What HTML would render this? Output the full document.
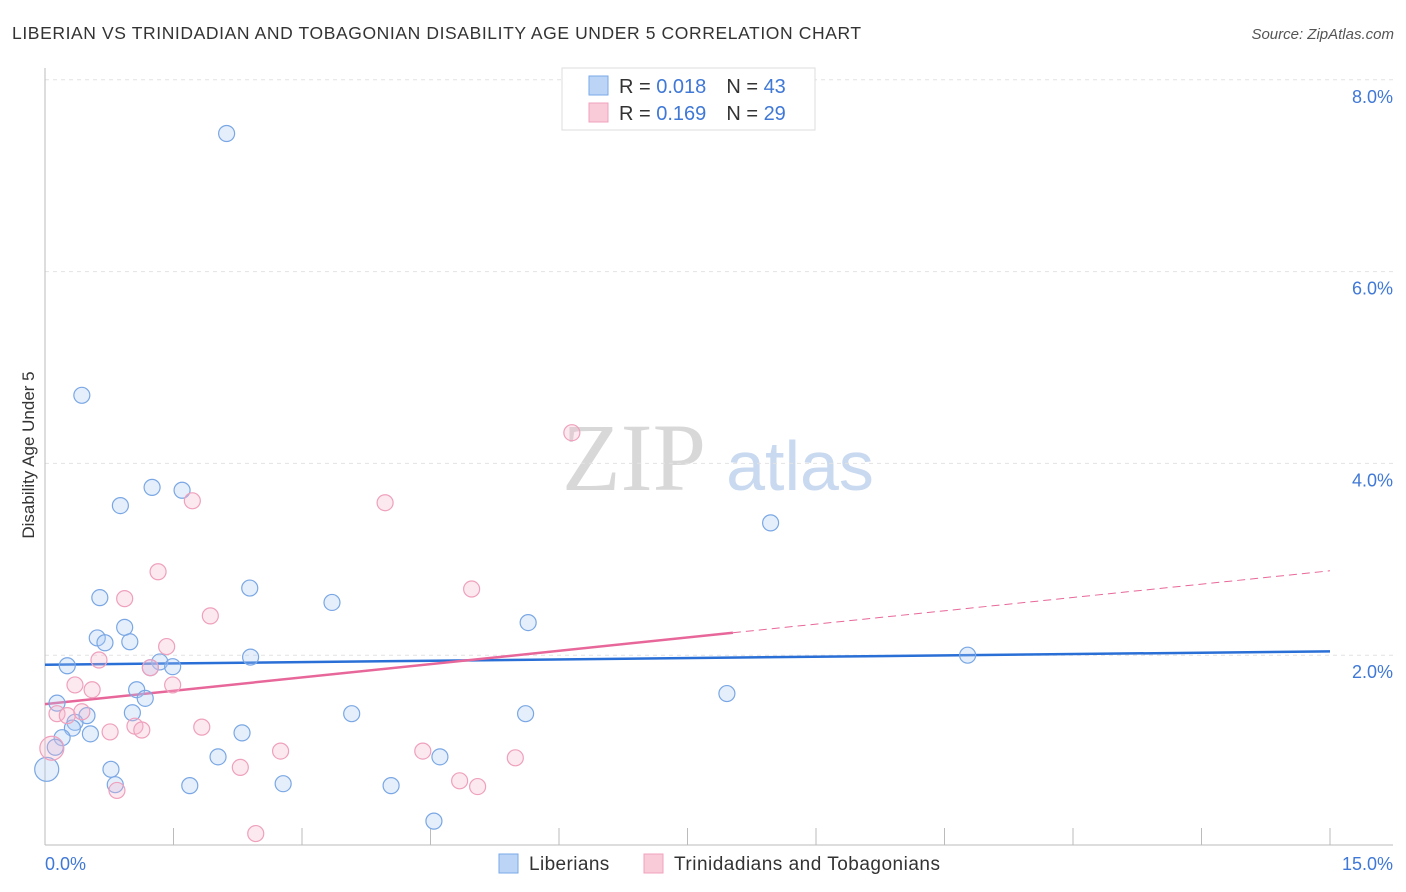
<!DOCTYPE html>
<html><head><meta charset="utf-8"><style>
body{margin:0;background:#fff;font-family:"Liberation Sans",sans-serif}
svg{display:block}
</style></head><body>
<svg id="chart" width="1406" height="892" viewBox="0 0 1406 892" xmlns="http://www.w3.org/2000/svg">
<text x="12" y="39" font-size="17.5" letter-spacing="0.6" fill="#333">LIBERIAN VS TRINIDADIAN AND TOBAGONIAN DISABILITY AGE UNDER 5 CORRELATION CHART</text>
<text x="1394" y="39" font-size="15" fill="#555" font-style="italic" text-anchor="end">Source: ZipAtlas.com</text>
<g>
<text x="634" y="490" font-size="96" font-family="Liberation Serif,serif" fill="#d8d8d8" text-anchor="middle">ZIP</text>
<text x="800" y="490" font-size="70" fill="#c9d9f0" text-anchor="middle">atlas</text>
</g>
<g id="grid"></g>
<g id="axes"></g>
<g id="trends"></g>
<g id="points"></g>
<text x="34" y="455" font-size="17" fill="#333" text-anchor="middle" transform="rotate(-90 34 455)">Disability Age Under 5</text>
<g>
<rect x="562" y="68" width="253" height="62" fill="#fff" stroke="#ddd"/>
<rect x="589" y="76" width="19" height="19" fill="#bcd4f5" stroke="#7aaae8"/>
<rect x="589" y="103" width="19" height="19" fill="#f9cbd9" stroke="#f0a0bc"/>
<text x="619" y="93" font-size="20" fill="#333">R = <tspan fill="#3f78d6">0.018</tspan><tspan dx="20">N = </tspan><tspan fill="#3f78d6">43</tspan></text>
<text x="619" y="120" font-size="20" fill="#333">R = <tspan fill="#3f78d6"> 0.169</tspan><tspan dx="20">N = </tspan><tspan fill="#3f78d6">29</tspan></text>
</g>
<g>
<rect x="499" y="854" width="19" height="19" fill="#bcd4f5" stroke="#7aaae8"/>
<text x="529" y="870" font-size="19" letter-spacing="0.4" fill="#333">Liberians</text>
<rect x="644" y="854" width="19" height="19" fill="#f9cbd9" stroke="#f0a0bc"/>
<text x="674" y="870" font-size="19" letter-spacing="0.5" fill="#333">Trinidadians and Tobagonians</text>
</g>
</svg>
<script>
const yTicks=[2,4,6,8];
const yTickLabels=["2.0%","4.0%","6.0%","8.0%"];
const xTickCount=10;
const xEndLabels=["0.0%","15.0%"];
const blueX=[2.12,0.43,1.25,1.60,0.88,8.47,0.64,2.39,3.35,5.64,0.93,0.61,0.70,0.99,2.40,10.77,0.26,1.34,1.49,1.23,1.07,0.14,1.17,7.96,1.02,3.58,5.61,0.49,0.35,0.32,0.20,0.53,2.30,0.12,2.02,4.61,0.77,0.02,0.82,1.69,2.78,4.04,4.54];
const blueY=[7.44,4.71,3.75,3.72,3.56,3.38,2.60,2.70,2.55,2.34,2.29,2.18,2.13,2.14,1.98,2.00,1.89,1.93,1.88,1.87,1.64,1.50,1.55,1.60,1.40,1.39,1.39,1.37,1.30,1.24,1.14,1.18,1.19,1.04,0.94,0.94,0.81,0.81,0.65,0.64,0.66,0.64,0.27];
const pinkX=[6.15,1.72,3.97,1.32,4.98,0.93,1.93,1.42,0.63,1.23,1.49,0.35,0.55,0.14,0.26,0.43,0.76,1.05,1.13,1.83,0.08,2.75,4.41,5.49,2.28,4.84,5.05,0.84,2.46];
const pinkY=[4.32,3.61,3.59,2.87,2.69,2.59,2.41,2.09,1.95,1.87,1.69,1.69,1.64,1.39,1.37,1.41,1.20,1.26,1.22,1.25,1.03,1.00,1.00,0.93,0.83,0.69,0.63,0.59,0.14];
const blueTrend=[1.90,2.04];
const pinkTrend=[1.49,2.88];
const pinkSolidEnd=8.03;
const X0=45,X1=1330,Y0=847,PY=95.9;
const sx=v=>X0+(X1-X0)*v/15, sy=v=>Y0-v*PY;
const NS="http://www.w3.org/2000/svg";
function mk(tag,attrs,parent){const e=document.createElementNS(NS,tag);for(const k in attrs)e.setAttribute(k,attrs[k]);parent.appendChild(e);return e;}
const grid=document.getElementById('grid'),axes=document.getElementById('axes'),tr=document.getElementById('trends'),pts=document.getElementById('points');
yTicks.forEach((t,i)=>{
 const l=mk('line',{x1:45,x2:1393,y1:sy(t),y2:sy(t),stroke:'#e2e2e2','stroke-dasharray':'4 4'},grid);
 
 
 const tx=mk('text',{x:1393,y:sy(t)+23,'font-size':18,fill:'#3f78d6','text-anchor':'end'},axes);
 tx.textContent=yTickLabels[i];
 
 
});
mk('line',{x1:45,x2:45,y1:68,y2:845,stroke:'#bbb'},axes);
mk('line',{x1:45,x2:1393,y1:845,y2:845,stroke:'#bbb'},axes);
for(let i=0;i<=xTickCount;i++){
 const x=sx(15*i/xTickCount);
 const t=mk('line',{x1:x,x2:x,y1:828,y2:845,stroke:'#bbb'},axes);
 
 
}
const xl0=mk('text',{x:45,y:870,'font-size':18,fill:'#3f78d6'},axes);xl0.textContent=xEndLabels[0];


const xl1=mk('text',{x:1393,y:870,'font-size':18,fill:'#3f78d6','text-anchor':'end'},axes);xl1.textContent=xEndLabels[1];


function dot(x,y,r,fill,stroke,name){
 const c=mk('circle',{cx:sx(x),cy:sy(y),r:r,fill:fill,stroke:stroke,'stroke-width':1.2},pts);
 
 
}
blueX.forEach((x,i)=>dot(x,blueY[i],x<0.05?12:8,'rgba(170,202,245,0.3)','#7aa7e4','point-liberian'));
pinkX.forEach((x,i)=>dot(x,pinkY[i],x<0.1?12:8,'rgba(246,182,204,0.3)','#efa0bc','point-trinidadian'));
const pv=v=>pinkTrend[0]+(pinkTrend[1]-pinkTrend[0])*v/15;
const bl=mk('line',{x1:sx(0),y1:sy(blueTrend[0]),x2:sx(15),y2:sy(blueTrend[1]),stroke:'#2a6fd6','stroke-width':2.5},tr);


const pl=mk('line',{x1:sx(0),y1:sy(pv(0)),x2:sx(pinkSolidEnd),y2:sy(pv(pinkSolidEnd)),stroke:'#e8679a','stroke-width':2.5},tr);


const pd=mk('line',{x1:sx(pinkSolidEnd),y1:sy(pv(pinkSolidEnd)),x2:sx(15),y2:sy(pv(15)),stroke:'#e8679a','stroke-width':1,'stroke-dasharray':'8 5'},tr);


</script>
</body></html>
